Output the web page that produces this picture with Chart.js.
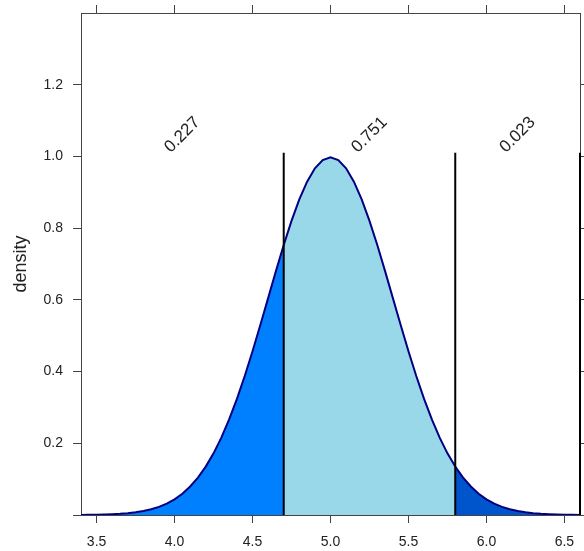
<!DOCTYPE html>
<html><head><meta charset="utf-8">
<script src="https://cdn.jsdelivr.net/npm/chart.js@4/dist/chart.umd.min.js"></script>
<style>html,body{margin:0;padding:0;background:#fff;}#wrap{width:584px;height:551px;}</style>
</head><body><div id="wrap"><canvas id="c" width="584" height="551"></canvas></div>
<script>
// ---- data ----
const xValues = [3.40,3.45,3.50,3.55,3.60,3.65,3.70,3.75,3.80,3.85,3.90,3.95,
  4.00,4.05,4.10,4.15,4.20,4.25,4.30,4.35,4.40,4.45,4.50,4.55,4.60,4.65,4.70,4.75,4.80,4.85,4.90,4.95,
  5.00,5.05,5.10,5.15,5.20,5.25,5.30,5.35,5.40,5.45,5.50,5.55,5.60,5.65,5.70,5.75,5.80,5.85,5.90,5.95,
  6.00,6.05,6.10,6.15,6.20,6.25,6.30,6.35,6.40,6.45,6.50,6.55,6.60];
const density = [0.0003,0.0005,0.0009,0.0014,0.0022,0.0034,0.0051,0.0076,0.0111,0.0160,0.0227,0.0318,
  0.0438,0.0594,0.0794,0.1043,0.1350,0.1720,0.2157,0.2664,0.3238,0.3876,0.4566,0.5297,0.6049,0.6801,0.7528,0.8204,0.8802,0.9296,0.9667,0.9896,
  0.9974,0.9896,0.9667,0.9296,0.8802,0.8204,0.7528,0.6801,0.6049,0.5297,0.4566,0.3876,0.3238,0.2664,0.2157,0.1720,0.1350,0.1043,0.0794,0.0594,
  0.0438,0.0318,0.0227,0.0160,0.0111,0.0076,0.0051,0.0034,0.0022,0.0014,0.0009,0.0005,0.0003];
const cutPoints = [3.4, 4.7, 5.8, 6.6];
const regionProbs = ['0.227', '0.751', '0.023'];
const cutLineTop = 1.01;
const labelLevel = 1.06;
const xTicks = [3.5, 4.0, 4.5, 5.0, 5.5, 6.0, 6.5];
const yTicks = [0, 0.2, 0.4, 0.6, 0.8, 1.0, 1.2];
const yTickLabels = ['', '0.2', '0.4', '0.6', '0.8', '1.0', '1.2'];
const yAxisTitle = 'density';

// ---- styles ----
const regionFills = ['#0080FF', '#99D8E9', '#0055CC'];
const curveColor = '#000080';
const axisColor = '#444444';
const textColor = '#222222';
const FONT = '"Liberation Sans", Arial, sans-serif';

const pts = xValues.map((x, i) => ({x: x, y: density[i]}));
const region = (a, b) => pts.filter(p => p.x >= a - 1e-9 && p.x <= b + 1e-9);

const datasets = [];
for (let i = 1; i < cutPoints.length; i++) {
  datasets.push({
    data: [{x: cutPoints[i], y: 0}, {x: cutPoints[i], y: cutLineTop}],
    borderColor: '#000000', borderWidth: 2, pointRadius: 0, fill: false,
    order: 1, clip: false
  });
}
for (let i = 0; i < regionProbs.length; i++) {
  datasets.push({
    data: region(cutPoints[i], cutPoints[i + 1]),
    borderColor: curveColor, borderWidth: 2, backgroundColor: regionFills[i],
    fill: 'origin', pointRadius: 0, tension: 0, order: 2
  });
}

const labelPlugin = {
  id: 'regionLabels',
  afterDatasetsDraw(chart) {
    const {ctx, scales} = chart;
    ctx.save();
    ctx.font = '17px ' + FONT;
    ctx.fillStyle = textColor;
    ctx.textAlign = 'center';
    ctx.textBaseline = 'middle';
    regionProbs.forEach((t, i) => {
      const cx = scales.x.getPixelForValue((cutPoints[i] + cutPoints[i + 1]) / 2);
      const cy = scales.y.getPixelForValue(labelLevel);
      ctx.save();
      ctx.translate(cx, cy);
      ctx.rotate(-Math.PI / 4);
      ctx.fillText(t, 0, 0);
      ctx.restore();
    });
    ctx.restore();
  }
};

const gridOpts = {drawOnChartArea: false, drawTicks: true, tickLength: 8, color: axisColor, tickColor: axisColor, lineWidth: 1};
const borderOpts = {display: true, color: axisColor, width: 1};
const noPad = s => { s.paddingTop = 0; s.paddingBottom = 0; s.paddingLeft = 0; s.paddingRight = 0; };

new Chart(document.getElementById('c'), {
  type: 'line',
  data: {datasets: datasets},
  options: {
    responsive: false,
    animation: false,
    devicePixelRatio: 1,
    layout: {padding: {top: 5, left: 0, right: 0, bottom: 0}},
    plugins: {legend: {display: false}, tooltip: {enabled: false}},
    scales: {
      x: {
        type: 'linear', position: 'bottom', min: 3.4, max: 6.6,
        afterBuildTicks: s => { s.ticks = xTicks.map(v => ({value: v})); },
        afterFit: s => { s.height = 36; noPad(s); },
        ticks: {autoSkip: false, maxRotation: 0, padding: 11, color: textColor,
          font: {family: FONT, size: 14}, callback: v => v.toFixed(1)},
        grid: gridOpts, border: borderOpts
      },
      x2: {
        type: 'linear', position: 'top', min: 3.4, max: 6.6,
        afterBuildTicks: s => { s.ticks = xTicks.map(v => ({value: v})); },
        afterFit: s => { s.height = 8; noPad(s); },
        ticks: {display: false},
        grid: gridOpts, border: borderOpts
      },
      y: {
        type: 'linear', position: 'left', min: 0, max: 1.4,
        afterBuildTicks: s => { s.ticks = yTicks.map(v => ({value: v})); },
        afterFit: s => { s.width = 81; noPad(s); },
        ticks: {autoSkip: false, padding: 10, color: textColor,
          font: {family: FONT, size: 14},
          callback: (v) => { const k = yTicks.findIndex(t => Math.abs(t - v) < 1e-9); return k >= 0 ? yTickLabels[k] : ''; }},
        title: {display: true, text: yAxisTitle, color: textColor,
          font: {family: FONT, size: 18}, padding: {top: 10, bottom: 0}},
        grid: gridOpts, border: borderOpts
      },
      y2: {
        type: 'linear', position: 'right', min: 0, max: 1.4,
        afterBuildTicks: s => { s.ticks = yTicks.map(v => ({value: v})); },
        afterFit: s => { s.width = 4; noPad(s); },
        ticks: {display: false},
        grid: gridOpts, border: borderOpts
      }
    }
  },
  plugins: [labelPlugin]
});
</script></body></html>
